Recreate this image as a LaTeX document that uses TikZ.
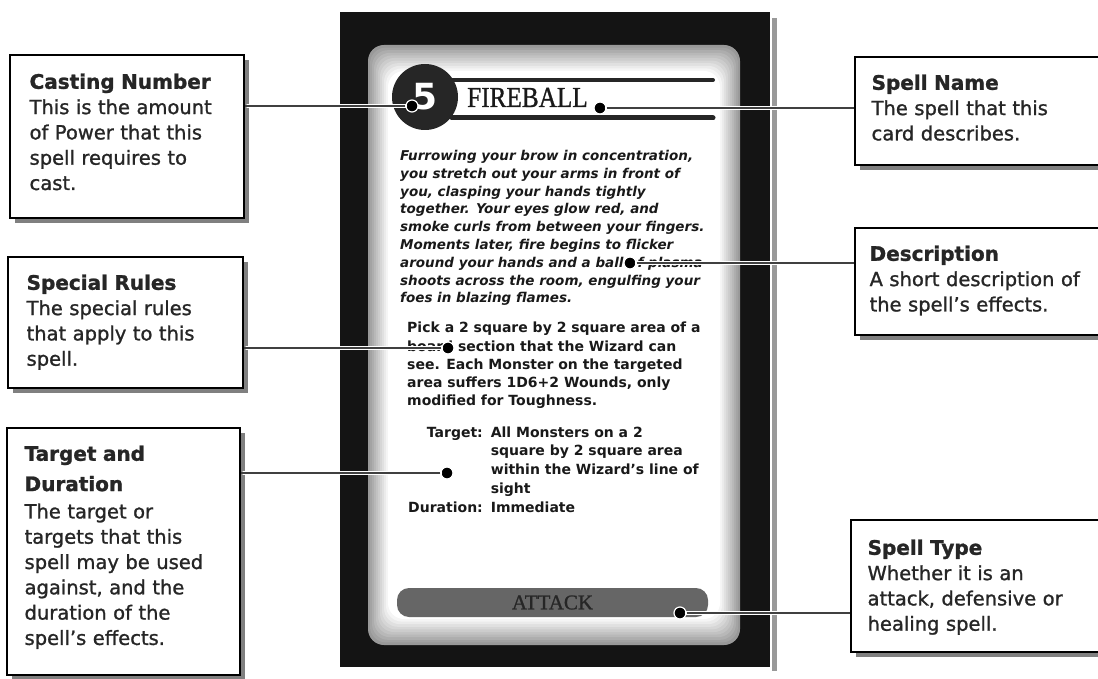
\documentclass[tikz,border=0pt]{standalone}
\usepackage{fontspec}
\setmainfont{DejaVu Sans}
\newfontfamily\calloutfont[Ligatures=TeX, FakeBold=1.2]{DejaVu Sans}
\newfontfamily\cardserif[FakeBold=1]{Liberation Serif}
\usetikzlibrary{shadows}

\newcommand\boxhead{\fontsize{20}{25}\selectfont\bfseries}

\begin{document}
\begin{tikzpicture}[x=1pt, y=-1pt, line cap=round,
  infobox/.style={draw, line width=1.2pt, fill=white, inner sep=0pt,
    general shadow={fill=black!50, shadow xshift=5pt, shadow yshift=-5pt}},
  infotext/.style={anchor=north west, inner sep=0pt, text width=230pt,
    align=left, text=black!85, font=\calloutfont\fontsize{19.5}{25.3}\selectfont},
  cardtext/.style={anchor=north west, inner sep=0pt, align=left, text=black!90},
  pin/.style={circle, fill=black, draw=white, line width=1.2pt,
    minimum size=12pt, inner sep=0pt},
  pointer/.style={draw=black!75, line width=1.3pt, line cap=butt,
    preaction={draw=white, line width=3.5pt, shorten >=3pt}}]
  \useasboundingbox (0,0) rectangle (1098,679);
  \clip (0,0) rectangle (1098,679);

  % the card
  \fill[black!40] (772,18) rectangle (777,671);
  \fill[black!92] (340,12) rectangle (770,667);
  \foreach \k [evaluate=\k as \tone using 40-4*\k] in {0,...,10}
    \fill[black!\tone, rounded corners=16pt]
      (368+2*\k,45+2.6*\k) rectangle (740-2*\k,645-2.6*\k);

  \node[circle, fill=black!85, minimum size=66pt, inner sep=0pt, text=white,
    font=\fontsize{36}{36}\selectfont\bfseries] (castnum) at (425,97) {5};
  \draw[line width=4pt, black!85] (452,80) -- (713,80);
  \draw[line width=5pt, black!85] (452,118) -- (713,118);
  \node[anchor=base west, inner sep=0pt, text=black!90,
    font=\cardserif\fontsize{29}{29}\selectfont] (spellname) at (467,107)
    {\scalebox{0.87}[1]{FIREBALL}};

  \node[cardtext, font=\fontsize{13.5}{17.8}\selectfont\bfseries\itshape] (flavour) at (400,150)
    {Furrowing your brow in concentration,\\
     you stretch out your arms in front of\\
     you, clasping your hands tightly\\
     together. Your eyes glow red, and\\
     smoke curls from between your fingers.\\
     Moments later, fire begins to flicker\\
     around your hands and a ball of plasma\\
     shoots across the room, engulfing your\\
     foes in blazing flames.};
  \node[cardtext, font=\fontsize{14}{18.2}\selectfont\bfseries] (rules) at (407,322)
    {Pick a 2 square by 2 square area of a\\
     board section that the Wizard can\\
     see. Each Monster on the targeted\\
     area suffers 1D6+2 Wounds, only\\
     modified for Toughness.};
  \node[cardtext, font=\fontsize{14}{18.7}\selectfont\bfseries] (target) at (408,424)
    {\begin{tabular}{@{}r@{\hspace{8pt}}l@{}}
       Target: & All Monsters on a 2\\
               & square by 2 square area\\
               & within the Wizard's line of\\
               & sight\\
       Duration: & Immediate
     \end{tabular}};

  \node[rounded corners=12pt, fill=black!60, minimum width=311pt, minimum height=29pt,
    text=black!85, font=\cardserif\fontsize{21}{21}\selectfont] (typeband) at (552.5,602.5) {ATTACK};

  % the call-out boxes
  \node[infobox, minimum width=234pt, minimum height=163pt] (castbox) at (127,136.5) {};
  \node[infotext] at ([shift={(20,19)}]castbox.north west)
    {{\boxhead Casting Number}\\ This is the amount\\ of Power that this\\
     spell requires to\\ cast.};
  \node[infobox, minimum width=235pt, minimum height=131pt] (rulesbox) at (125.5,322.5) {};
  \node[infotext] at ([shift={(19,18)}]rulesbox.north west)
    {{\boxhead Special Rules}\\ The special rules\\ that apply to this\\ spell.};
  \node[infobox, minimum width=233pt, minimum height=247pt] (targetbox) at (123.5,551.5) {};
  \node[infotext] at ([shift={(18,18)}]targetbox.north west)
    {{\boxhead Target and\\[5pt] Duration}\\[2pt] The target or\\ targets that this\\
     spell may be used\\ against, and the\\ duration of the\\ spell's effects.};

  \node[infobox, minimum width=255pt, minimum height=108pt] (namebox) at (982.5,111) {};
  \node[infotext] at ([shift={(17,18)}]namebox.north west)
    {{\boxhead Spell Name}\\ The spell that this\\ card describes.};
  \node[infobox, minimum width=255pt, minimum height=107pt] (descbox) at (982.5,281.5) {};
  \node[infotext] at ([shift={(15,18)}]descbox.north west)
    {{\boxhead Description}\\ A short description of\\ the spell's effects.};
  \node[infobox, minimum width=259pt, minimum height=132pt] (typebox) at (980.5,586) {};
  \node[infotext] at ([shift={(17,20)}]typebox.north west)
    {{\boxhead Spell Type}\\ Whether it is an\\ attack, defensive or\\ healing spell.};

  % pins and pointers
  \node[pin] (castpin) at (412,106) {};
  \node[pin] (namepin) at (600,108) {};
  \node[pin] (descpin) at (630,263) {};
  \node[pin] (rulespin) at (448,348) {};
  \node[pin] (targetpin) at (447,473) {};
  \node[pin] (typepin) at (680,613) {};
  \draw[pointer] (castpin) -- (castpin -| castbox.east);
  \draw[pointer] (namepin) -- (namepin -| namebox.west);
  \draw[pointer] (descpin) -- (descpin -| descbox.west);
  \draw[pointer] (rulespin) -- (rulespin -| rulesbox.east);
  \draw[pointer] (targetpin) -- (targetpin -| targetbox.east);
  \draw[pointer] (typepin) -- (typepin -| typebox.west);
\end{tikzpicture}
\end{document}
